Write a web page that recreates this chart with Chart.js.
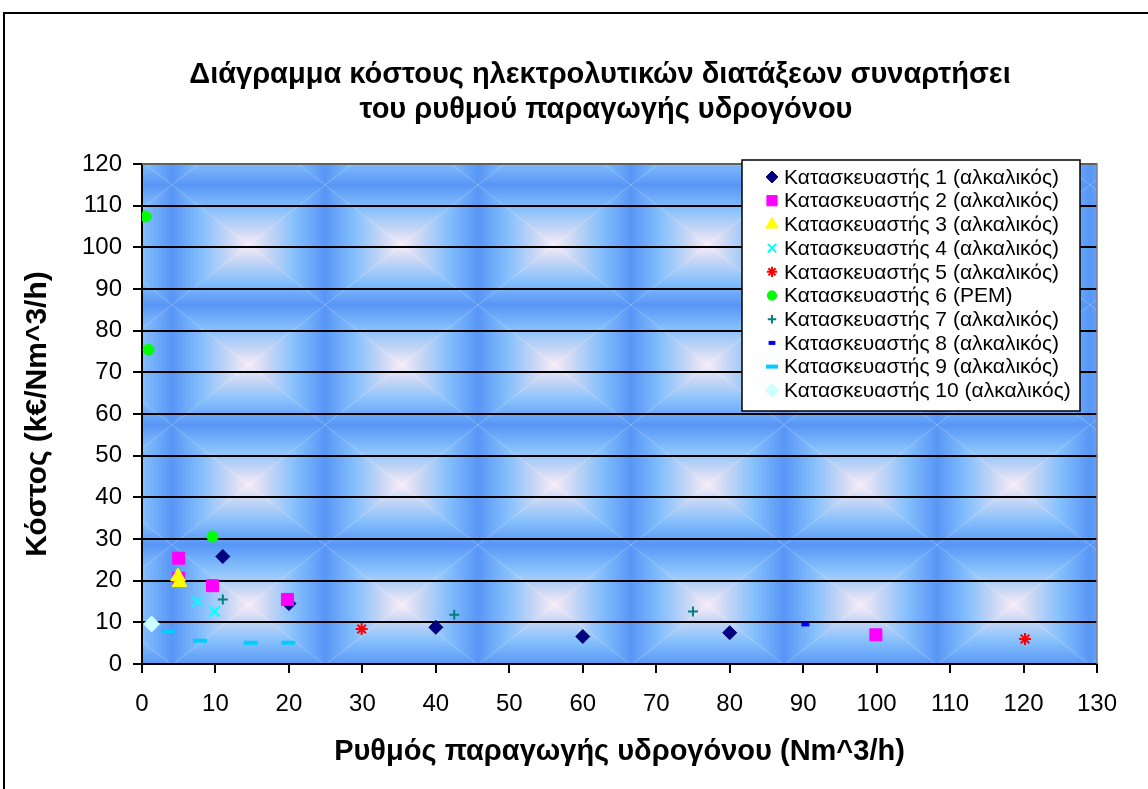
<!DOCTYPE html>
<html>
<head>
<meta charset="utf-8">
<script src="https://cdn.jsdelivr.net/npm/chart.js@4"></script>
<style>
    html, body { margin: 0; padding: 0; background: #fff; }
</style>
</head>
<body>
<canvas id="kostos" width="1148" height="789"></canvas>
<script>
// data: x = Nm^3/h, y = k€/(Nm^3/h)
const names = [
    'Κατασκευαστής 1 (αλκαλικός)',
    'Κατασκευαστής 2 (αλκαλικός)',
    'Κατασκευαστής 3 (αλκαλικός)',
    'Κατασκευαστής 4 (αλκαλικός)',
    'Κατασκευαστής 5 (αλκαλικός)',
    'Κατασκευαστής 6 (PEM)',
    'Κατασκευαστής 7 (αλκαλικός)',
    'Κατασκευαστής 8 (αλκαλικός)',
    'Κατασκευαστής 9 (αλκαλικός)',
    'Κατασκευαστής 10 (αλκαλικός)'
]
const rate1 = [11, 20, 40, 60, 80]
const cost1 = [25.8, 14.5, 8.8, 6.6, 7.5]
const rate2 = [5, 5, 9.6, 19.8, 99.9]
const cost2 = [25.4, 20.6, 18.8, 15.5, 7.0]
const rate3 = [4.9, 5.1]
const cost3 = [21.0, 19.6]
const rate4 = [7.5, 9.9]
const cost4 = [15.0, 12.6]
const rate5 = [29.9, 120.2]
const cost5 = [8.4, 6.0]
const rate6 = [0.5, 0.9, 9.6]
const cost6 = [107.4, 75.4, 30.6]
const rate7 = [11, 42.5, 75]
const cost7 = [15.5, 11.8, 12.6]
const rate8 = [90.3]
const cost8 = [9.5]
const rate9 = [3.6, 7.9, 14.8, 19.9]
const cost9 = [7.9, 5.6, 5.1, 5.1]
const rate10 = [1.3]
const cost10 = [9.6]

const xTicks = [0, 130, 10]
const yTicks = [0, 120, 10]

const rates = [rate1, rate2, rate3, rate4, rate5, rate6, rate7, rate8, rate9, rate10]
const costs = [cost1, cost2, cost3, cost4, cost5, cost6, cost7, cost8, cost9, cost10]

const looks = [
    { color: '#000080', style: 'rectRot', r: 7, bw: 1 },
    { color: '#FF00FF', style: 'rect', r: 8.5, bw: 1 },
    { color: '#FFFF00', style: 'triangle', r: 8.5, bw: 1 },
    { color: '#00FFFF', style: 'crossRot', r: 7, bw: 2 },
    { color: '#FF0000', style: 'star', r: 6, bw: 2 },
    { color: '#00FF00', style: 'circle', r: 5.5, bw: 1 },
    { color: '#008080', style: 'cross', r: 5, bw: 2 },
    { color: '#0000FF', style: 'line', r: 4, bw: 4 },
    { color: '#00CCFF', style: 'line', r: 7, bw: 4 },
    { color: '#CCFFFF', style: 'rectRot', r: 8, bw: 1 }
]

const FONT = '"Liberation Sans", Arial, sans-serif'

// one tile of the blue "pillow" background texture
function makeTile(w, h) {
    const c = document.createElement('canvas')
    c.width = w
    c.height = h
    const g = c.getContext('2d')
    const cx = w / 2, cy = h / 2
    const stops = [[0, '#5896f6'], [0.4, '#86c0fc'], [0.75, '#c9d7f4'], [1, '#f8ecf8']]
    const tris = [
        [[0, 0], [w, 0], 0, 0, 0, cy],
        [[0, h], [w, h], 0, h, 0, cy],
        [[0, 0], [0, h], 0, 0, cx, 0],
        [[w, 0], [w, h], w, 0, cx, 0]
    ]
    tris.forEach(t => {
        const lg = g.createLinearGradient(t[2], t[3], t[4], t[5])
        stops.forEach(s => lg.addColorStop(s[0], s[1]))
        g.fillStyle = lg
        g.beginPath()
        g.moveTo(t[0][0], t[0][1])
        g.lineTo(t[1][0], t[1][1])
        g.lineTo(cx, cy)
        g.closePath()
        g.fill()
    })
    return c
}
const tile = makeTile(153, 120)

const backdrop = {
    id: 'backdrop',
    beforeDraw(chart) {
        const { ctx, chartArea: a } = chart
        ctx.save()
        ctx.fillStyle = '#fff'
        ctx.fillRect(0, 0, chart.width, chart.height)
        // outer frame (left and top visible)
        ctx.strokeStyle = '#000'
        ctx.lineWidth = 2
        ctx.beginPath()
        ctx.moveTo(4, chart.height)
        ctx.lineTo(4, 13)
        ctx.lineTo(chart.width, 13)
        ctx.stroke()
        ctx.beginPath()
        ctx.rect(a.left, a.top, a.right - a.left, a.bottom - a.top)
        ctx.clip()
        for (let x = a.left + 30 - 153; x < a.right; x += 153) {
            for (let y = a.top + 21 - 120; y < a.bottom; y += 120) {
                ctx.drawImage(tile, x, y)
            }
        }
        ctx.restore()
    },
    afterDraw(chart) {
        const { ctx, chartArea: a } = chart
        ctx.save()
        // grey top/right plot edges
        ctx.strokeStyle = '#808080'
        ctx.lineWidth = 1.5
        ctx.beginPath()
        ctx.moveTo(a.left, a.top)
        ctx.lineTo(a.right, a.top)
        ctx.lineTo(a.right, a.bottom)
        ctx.stroke()

        // chart title
        ctx.fillStyle = '#000'
        ctx.font = 'bold 29px ' + FONT
        ctx.textAlign = 'center'
        ctx.textBaseline = 'middle'
        ctx.fillText('Διάγραμμα κόστους ηλεκτρολυτικών διατάξεων συναρτήσει', 600, 75)
        ctx.fillText('του ρυθμού παραγωγής υδρογόνου', 606, 110)

        // legend box inside the plot
        ctx.fillStyle = '#fff'
        ctx.fillRect(742, 160, 338, 251)
        ctx.strokeStyle = '#000'
        ctx.lineWidth = 1.5
        ctx.strokeRect(742, 160, 338, 251)
        ctx.font = '21px ' + FONT
        ctx.textAlign = 'left'
        chart.data.datasets.forEach((ds, i) => {
            const y = 177 + i * 23.7
            ctx.fillStyle = ds.backgroundColor
            ctx.strokeStyle = ds.borderColor
            ctx.lineWidth = ds.borderWidth
            Chart.helpers.drawPoint(ctx, {
                pointStyle: ds.pointStyle,
                rotation: 0,
                radius: ds.pointRadius * 0.85,
                borderWidth: ds.borderWidth
            }, 772, y)
            ctx.fillStyle = '#000'
            ctx.fillText(ds.label, 784, y + 1)
        })
        ctx.restore()
    }
}

const datasets = names.map((name, i) => ({
    label: name,
    data: rates[i].map((x, j) => ({ x: x, y: costs[i][j] })),
    order: names.length - i, // later series drawn on top, as in the original
    pointStyle: looks[i].style,
    pointRadius: looks[i].r,
    pointHoverRadius: looks[i].r,
    backgroundColor: looks[i].color,
    borderColor: looks[i].color,
    borderWidth: looks[i].bw,
    showLine: false
}))

const myChart = new Chart(document.getElementById('kostos'), {
    type: 'scatter',
    data: { datasets: datasets },
    plugins: [backdrop],
    options: {
        responsive: false,
        animation: false,
        devicePixelRatio: 1,
        layout: { padding: { top: 164, right: 51, left: 0, bottom: 0 } },
        plugins: {
            legend: { display: false },
            title: { display: false },
            tooltip: { enabled: false }
        },
        scales: {
            x: {
                type: 'linear',
                min: xTicks[0],
                max: xTicks[1],
                afterFit(scale) { scale.height = 125 },
                ticks: {
                    stepSize: xTicks[2],
                    color: '#000',
                    padding: 17,
                    maxRotation: 0,
                    font: { family: FONT, size: 24 }
                },
                grid: { drawOnChartArea: false, color: '#000', lineWidth: 2, tickLength: 9 },
                border: { color: '#000', width: 2 },
                title: {
                    display: true,
                    text: 'Ρυθμός παραγωγής υδρογόνου (Nm^3/h)',
                    color: '#000',
                    font: { family: FONT, size: 29, weight: 'bold' },
                    padding: { top: 0, bottom: 20 }
                }
            },
            y: {
                type: 'linear',
                min: yTicks[0],
                max: yTicks[1],
                afterFit(scale) { scale.width = 142 },
                ticks: {
                    stepSize: yTicks[2],
                    color: '#000',
                    padding: 11,
                    font: { family: FONT, size: 24 }
                },
                grid: { color: '#000', lineWidth: 2, tickLength: 9 },
                border: { color: '#000', width: 2 },
                title: {
                    display: true,
                    text: 'Κόστος (k€/Nm^3/h)',
                    color: '#000',
                    font: { family: FONT, size: 30, weight: 'bold' },
                    padding: { top: 20, bottom: 0 }
                }
            }
        }
    }
});
</script>
</body>
</html>
